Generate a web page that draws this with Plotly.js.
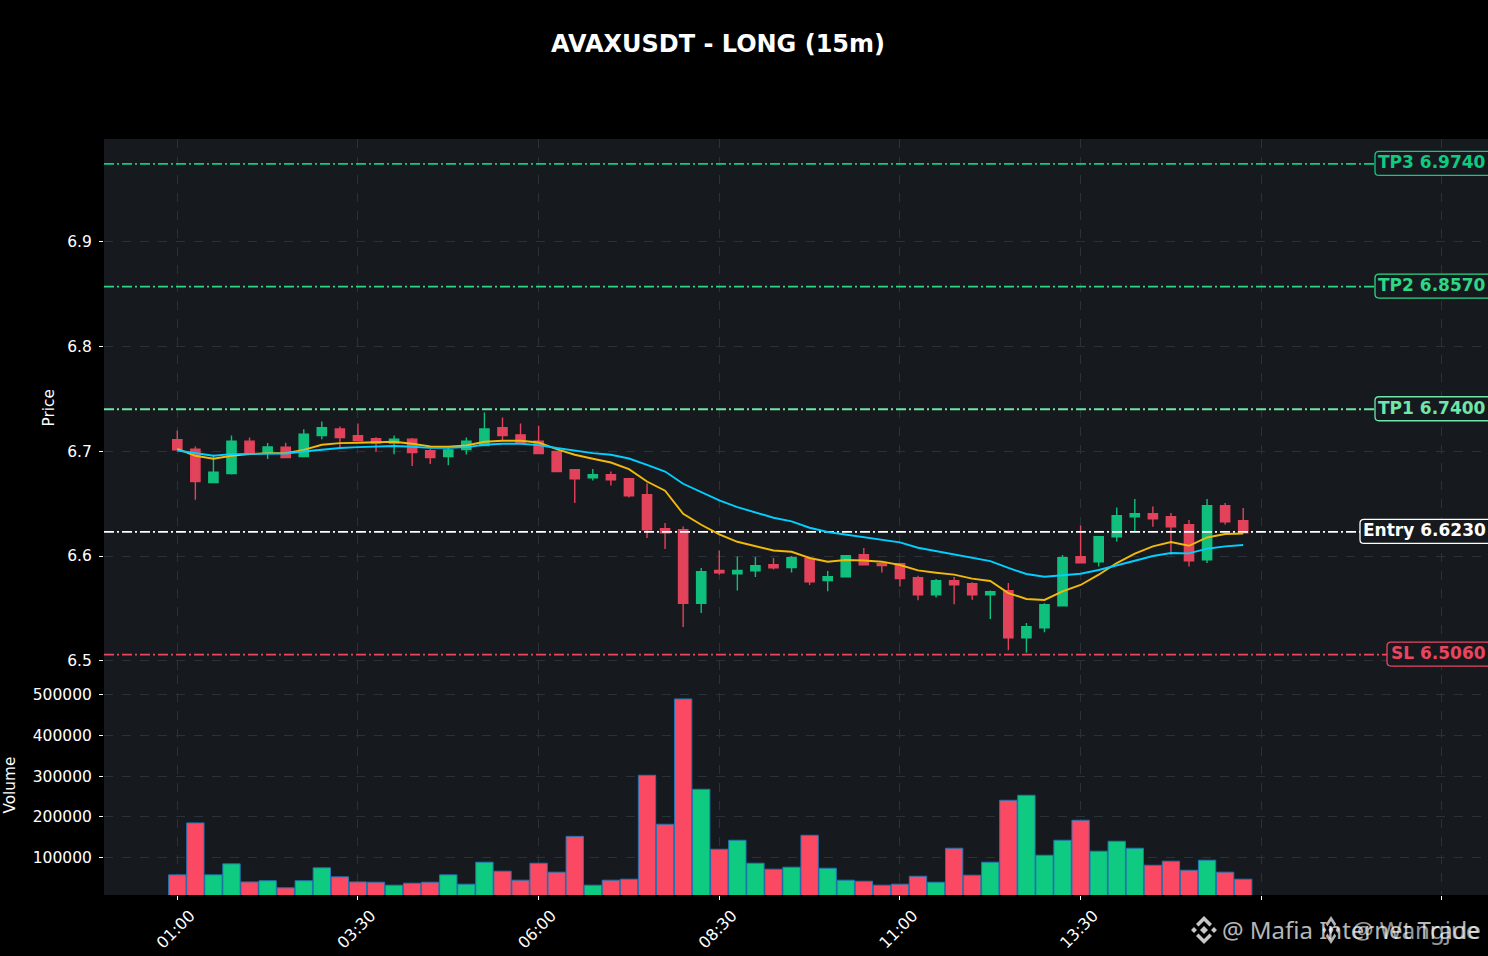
<!DOCTYPE html>
<html><head><meta charset="utf-8">
<script src="https://cdn.plot.ly/plotly-3.0.1.min.js"></script>
<style>html,body{margin:0;padding:0;background:#000}#c{width:1488px;height:956px}</style></head>
<body><div id="c"></div>
<script>
const chartTitle='AVAXUSDT - LONG (15m)';
const tickLabels=['01:00','03:30','06:00','08:30','11:00','13:30','',''];
const tickPositions=[0,10,20,30,40,50,60,70];
const opens=[6.7109,6.702,6.6702,6.6787,6.7096,6.698,6.7039,6.695,6.715,6.7211,6.7147,6.7118,6.7077,6.7115,6.7004,6.695,6.7016,6.7054,6.7223,6.7156,6.7096,6.6997,6.6823,6.6746,6.6775,6.6737,6.6584,6.626,6.6251,6.5548,6.5863,6.5831,6.586,6.5917,6.5891,6.5974,6.5765,6.5803,6.6012,6.5927,6.5927,6.5793,6.5631,6.5765,6.5736,6.5631,6.5669,6.5221,6.5316,6.5526,6.5993,6.5946,6.6184,6.6375,6.6403,6.6375,6.6298,6.5965,6.648,6.6337];
const highs=[6.7197,6.7045,6.6965,6.715,6.713,6.7077,6.708,6.721,6.7283,6.7235,6.7264,6.7134,6.715,6.7125,6.702,6.703,6.713,6.7369,6.7321,6.7264,6.7242,6.7,6.683,6.6829,6.6806,6.6737,6.6694,6.6315,6.6282,6.5886,6.6053,6.5996,6.599,6.598,6.6,6.599,6.5857,6.601,6.6076,6.594,6.5935,6.5812,6.578,6.58,6.575,6.567,6.5743,6.536,6.555,6.601,6.6292,6.6184,6.6463,6.6543,6.6473,6.641,6.6343,6.6543,6.6505,6.6457];
const lows=[6.7013,6.6536,6.67,6.6778,6.698,6.6925,6.694,6.695,6.7115,6.704,6.71,6.6997,6.697,6.6858,6.6877,6.6867,6.6969,6.705,6.7102,6.708,6.6978,6.6806,6.6505,6.672,6.6673,6.6559,6.6172,6.6067,6.5323,6.5457,6.5822,6.5672,6.58,6.5872,6.5844,6.5724,6.5663,6.58,6.5917,6.5844,6.571,6.5577,6.5605,6.5539,6.5583,6.54,6.51,6.5078,6.5272,6.5526,6.5936,6.59,6.6139,6.6235,6.628,6.6012,6.59,6.5933,6.63,6.622];
const closes=[6.7013,6.671,6.68,6.7096,6.698,6.704,6.694,6.7163,6.7223,6.713,6.7102,6.7077,6.7115,6.6988,6.694,6.7013,6.7096,6.7211,6.715,6.7083,6.6978,6.6806,6.6737,6.6775,6.6727,6.6575,6.6251,6.6222,6.5548,6.585,6.5841,6.5863,6.5907,6.5888,6.5984,6.5755,6.5803,6.6003,6.5917,6.5908,6.5784,6.5631,6.5765,6.5726,6.5631,6.566,6.5221,6.5326,6.5536,6.5984,6.5936,6.6184,6.6384,6.6403,6.6356,6.6279,6.5955,6.648,6.6327,6.6222];
const emaFast=[6.7023,6.6956,6.6928,6.6956,6.6972,6.6982,6.6982,6.7013,6.7061,6.7077,6.708,6.7083,6.709,6.7071,6.7045,6.7042,6.7054,6.709,6.7099,6.7099,6.7083,6.702,6.6966,6.6928,6.6892,6.6829,6.6711,6.6623,6.6403,6.6298,6.6206,6.6136,6.6098,6.6053,6.6041,6.5981,6.5946,6.5962,6.5958,6.5946,6.5914,6.5863,6.5841,6.5822,6.5784,6.5762,6.5647,6.559,6.5581,6.5663,6.5724,6.5822,6.5933,6.6022,6.6092,6.6133,6.6098,6.6177,6.621,6.6215];
const emaSlow=[6.7007,6.6982,6.6956,6.6972,6.6975,6.6978,6.6978,6.6997,6.7016,6.703,6.7039,6.7042,6.7049,6.7042,6.7032,6.7032,6.7039,6.7061,6.7071,6.7071,6.7058,6.703,6.7004,6.6982,6.6966,6.693,6.687,6.6806,6.6689,6.661,6.653,6.6467,6.6416,6.6365,6.633,6.627,6.6229,6.6203,6.6181,6.6158,6.613,6.6079,6.6048,6.6015,6.5981,6.5952,6.5886,6.5829,6.5803,6.5815,6.5831,6.5867,6.5908,6.5955,6.6,6.6029,6.6025,6.607,6.6092,6.6105];
const volumes=[57500,185000,57500,84500,40000,43000,25600,43000,74700,52600,40000,39400,32000,37000,39400,57500,34500,88500,66400,44300,86000,64000,152000,32000,44300,46800,302000,181700,489400,267600,120400,142400,86000,71300,76200,154700,73700,44300,41800,32000,34500,54000,39400,122800,56600,88500,240600,252900,105600,142400,191500,115500,140000,122800,81000,91000,68800,93400,64000,46800];
const levelNames=['TP3','TP2','TP1','Entry','SL'];
const levelValues=[6.974,6.857,6.74,6.623,6.506];
const levelColors=['#0ECB81','#2FD687','#6EE7A8','#ffffff','#EA4560'];
const levelBoxLeft=[113,113,113,128,101];
const priceTicks=[6.5,6.6,6.7,6.8,6.9];
const volumeTicks=[100000,200000,300000,400000,500000];
const watermarks=['@ Mafia Internet Trade','@ Wangjue'];

const idx=opens.map((_,i)=>i);
const UP='#0ECB81',DOWN='#FB4963',BG='#161A1E',GRID='#2B3139';
const FONT='"DejaVu Sans", sans-serif';
const xr=[-4.057,72.55];
const PRICE_BOTTOM=(895.5-677)/756.5, VOLUME_TOP=(895.5-675.5)/756.5;

const traces=[];
levelValues.forEach((v,i)=>traces.push({type:'scatter',mode:'lines',x:xr,y:[v,v],xaxis:'x',yaxis:'y',
  line:{color:levelColors[i],width:1.8,dash:'10px,3px,2px,3px'},hoverinfo:'skip',showlegend:false}));
traces.push({type:'bar',x:idx,y:volumes,xaxis:'x',yaxis:'y2',width:0.96,
  marker:{color:idx.map(i=>closes[i]>=opens[i]?UP:DOWN),line:{color:'#1F77B4',width:1}},showlegend:false});
traces.push({type:'candlestick',x:idx,open:opens,high:highs,low:lows,close:closes,xaxis:'x',yaxis:'y',
  increasing:{line:{color:'#10BF7C',width:1.4},fillcolor:'#10BF7C'},
  decreasing:{line:{color:'#E2425A',width:1.4},fillcolor:'#E2425A'},whiskerwidth:0,showlegend:false});
traces.push({type:'scatter',mode:'lines',x:idx,y:emaFast,xaxis:'x',yaxis:'y',line:{color:'#F0B90B',width:1.9},showlegend:false});
traces.push({type:'scatter',mode:'lines',x:idx,y:emaSlow,xaxis:'x',yaxis:'y',line:{color:'#00CFFF',width:1.9},showlegend:false});

function rounded(l,t,b,r){
  const R=4;
  return `M ${-l+R},${t} L ${r},${t} L ${r},${-b} L ${-l+R},${-b} Q ${-l},${-b} ${-l},${-b+R} L ${-l},${t-R} Q ${-l},${t} ${-l+R},${t} Z`;
}
const shapes=levelValues.map((v,i)=>({type:'path',layer:'above',xref:'paper',yref:'y',xsizemode:'pixel',ysizemode:'pixel',
  xanchor:1,yanchor:v,path:rounded(levelBoxLeft[i],12.5,11.5,2),line:{color:levelColors[i],width:1.3},fillcolor:BG}));
const annotations=levelValues.map((v,i)=>({xref:'paper',yref:'y',x:1,y:v,xanchor:'right',yanchor:'middle',xshift:0,yshift:1.5,
  text:`<b>${levelNames[i]} ${v.toFixed(4)}</b>`,showarrow:false,font:{family:FONT,size:17,color:levelColors[i]}}));

function logo(sx){
  const p=(pts)=>'M '+pts.map(q=>`${q[0]*sx},${q[1]}`).join(' L ')+' Z ';
  return p([[0,-4],[4,0],[0,4],[-4,0]])
   +p([[-10,-3],[-7,0],[-10,3],[-13,0]])+p([[10,-3],[13,0],[10,3],[7,0]])
   +p([[0,14],[8,6],[5.5,3.5],[0,9],[-5.5,3.5],[-8,6]])
   +p([[0,-14],[8,-6],[5.5,-3.5],[0,-9],[-5.5,-3.5],[-8,-6]]);
}
const pxX=x=>(x-104)/1384, pxY=y=>(895.5-y)/756.5;
[[1204,1,0.78],[1331,0.65,0.7]].forEach(w=>shapes.push({type:'path',layer:'above',xref:'paper',yref:'paper',xsizemode:'pixel',ysizemode:'pixel',
  xanchor:pxX(w[0]),yanchor:pxY(930.5),path:logo(w[1]),fillcolor:'#ffffff',opacity:w[2],line:{width:0}}));
annotations.push({xref:'paper',yref:'paper',x:pxX(1220),y:pxY(930.5),xanchor:'left',yanchor:'middle',showarrow:false,
  text:watermarks[0],font:{family:'"Noto Sans",sans-serif',size:24,color:'rgba(255,255,255,0.72)'}});
annotations.push({xref:'paper',yref:'paper',x:pxX(1481),y:pxY(930.5),xanchor:'right',yanchor:'middle',showarrow:false,
  text:watermarks[1],font:{family:'"Noto Sans",sans-serif',size:24,color:'rgba(255,255,255,0.6)'}});

const axisBase={color:'#fff',showline:false,zeroline:false,ticks:'outside',ticklen:4,tickwidth:1,tickcolor:'#fff',
  gridcolor:GRID,griddash:'dash',gridwidth:1,tickfont:{family:FONT,size:15.5,color:'#fff'}};
const layout={width:1488,height:956,paper_bgcolor:'#000',plot_bgcolor:BG,showlegend:false,hovermode:false,
  margin:{l:104,r:0,t:139,b:60.5,pad:0},boxgap:0.27,
  title:{text:`<b>${chartTitle}</b>`,font:{family:FONT,size:24,color:'#fff'},x:718/1488,xref:'container',xanchor:'center',y:1-44/956,yref:'container',yanchor:'middle'},
  xaxis:Object.assign({},axisBase,{range:xr,anchor:'y2',domain:[0,1],tickmode:'array',tickvals:tickPositions,ticktext:tickLabels,tickangle:-45,ticklabelshift:13,tickfont:{family:FONT,size:16,color:'#fff'},rangeslider:{visible:false}}),
  yaxis:Object.assign({},axisBase,{domain:[PRICE_BOTTOM,1],range:[6.48494,6.9978],anchor:'x',ticklabelstandoff:4,tickmode:'array',tickvals:priceTicks,ticktext:priceTicks.map(v=>v.toFixed(1)),title:{text:'Price',font:{family:FONT,size:15.3,color:'#fff'},standoff:8}}),
  yaxis2:Object.assign({},axisBase,{domain:[0,VOLUME_TOP],range:[7976,547900],anchor:'x',ticklabelstandoff:4,tickmode:'array',tickvals:volumeTicks,ticktext:volumeTicks.map(String),title:{text:'Volume',font:{family:FONT,size:15.3,color:'#fff'},standoff:13}}),
  shapes:shapes,annotations:annotations};
Plotly.newPlot('c',traces,layout,{displayModeBar:false,responsive:false});
</script></body></html>
